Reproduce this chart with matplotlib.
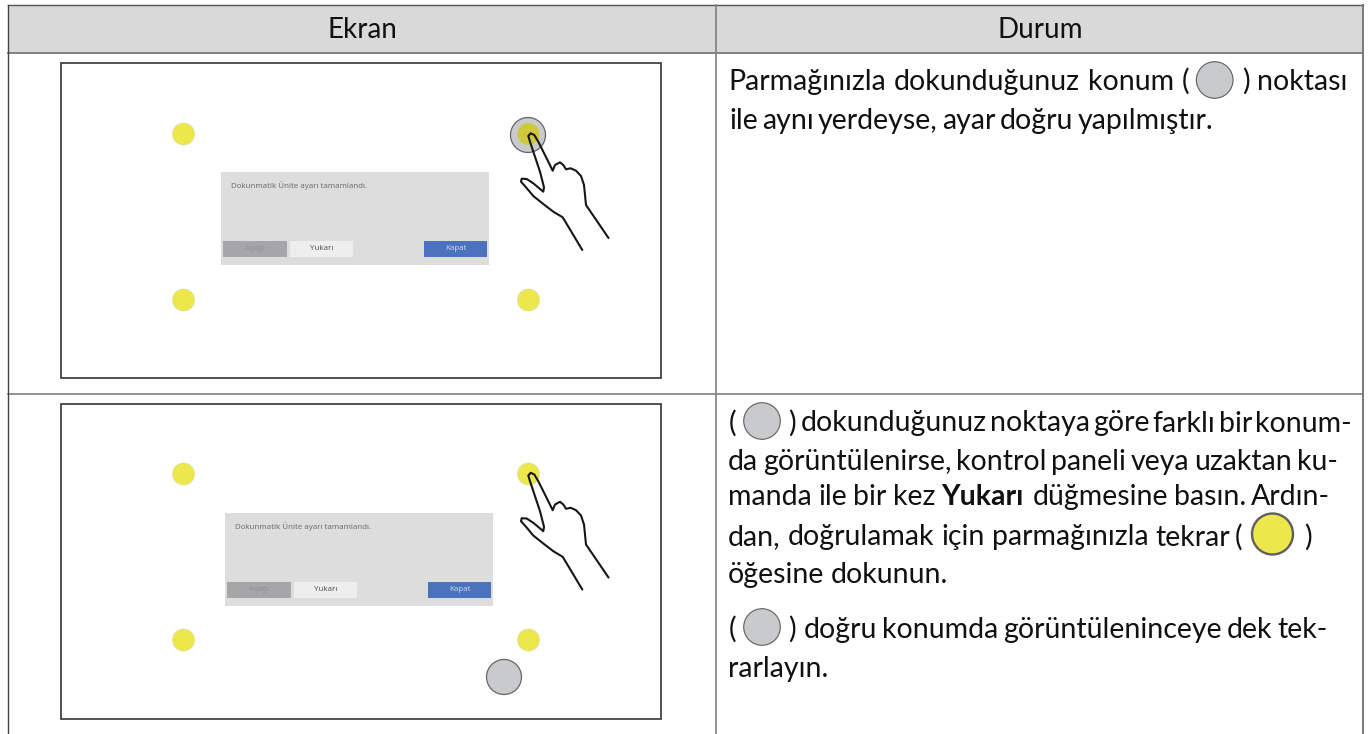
import matplotlib
matplotlib.use("Agg")
import matplotlib.pyplot as plt
from matplotlib.patches import Circle, Rectangle

# ---- data ------------------------------------------------------------------
headers = ["Ekran", "Durum"]
header_centers = [362, 1040]

yellow_x = [183.5, 528.5]
row_offsets = [0, 340]
dialog_dx = [0, 4]
dialog_dy = [0, 341]

dialog_msg = "Dokunmatik Ünite ayarı tamamlandı."
btn_labels = ["Aşağı", "Yukarı", "Kapat"]
btn_x0 = [223.5, 290.5, 424.5]
btn_x1 = [287, 353.5, 487]

# text lines: (baseline y, [(segment text, x start, x end, bold?)])
body_lines = [
    (90,  [("Parmağınızla dokunduğunuz konum", 728.5, 1174, False), ("(", 1182, 1188, False),
           (")", 1242, 1248, False), ("noktası", 1257, 1343, False)]),
    (129, [("ile aynı yerdeyse, ayar doğru yapılmıştır.", 729, 1213, False)]),
    (431.5, [("(", 729, 735, False), (")", 788.5, 794, False),
             ("dokunduğunuz noktaya göre farklı bir konum-", 801, 1351.5, False)]),
    (470, [("da görüntülenirse, kontrol paneli veya uzaktan ku-", 728, 1338, False)]),
    (505, [("manda ile bir kez", 728, 935, False), ("Yukarı", 941.5, 1025, True),
           ("düğmesine basın. Ardın-", 1033, 1330, False)]),
    (545.5, [("dan, doğrulamak için parmağınızla tekrar", 728, 1230, False), ("(", 1235, 1241, False),
             (")", 1304, 1310, False)]),
    (583, [("öğesine dokunun.", 728, 948, False)]),
    (638, [("(", 729, 735, False), (")", 788.5, 794, False),
           ("doğru konumda görüntüleninceye dek tek-", 804, 1328, False)]),
    (677, [("rarlayın.", 728, 824, False)]),
]
BODY_PT = 20.5
FONT = "Lato"

# inline legends: (x, y, radius, colour)
inline = [(1214.7, 80, 18.3, "#c9cacc"), (762, 421, 18.3, "#c9cacc"),
          (1272.5, 534, 20.5, "#ece84b"), (762, 627, 18.3, "#c9cacc")]
inline_lw = [0.8, 0.8, 1.7, 0.8]

hand_x = [582.3, 562.7, 553.3, 543.3, 533.3, 526, 521, 521.7, 526.7, 533.3, 543.3,
          544, 540, 535, 530, 528.3, 530.7, 534.3, 538.3, 543.3, 548.3, 552.7, 555, 560, 563.3,
          566, 570.7, 576, 581, 584, 585, 586, 608.5]
hand_y = [250, 217.3, 211.7, 204, 196, 187.3, 181.7, 178.7, 179, 183.3, 191.7,
          187.3, 171.7, 156.7, 141.7, 136, 133.3, 135, 141.7, 151.7, 161.7, 170.7, 165, 162.3, 165,
          169.3, 168.3, 170.7, 176, 185, 195, 205, 238]
hand_dy = [0, 339.5]

# ---- figure ----------------------------------------------------------------
fig = plt.figure(figsize=(13.7, 7.34), dpi=100, facecolor="white")
ax = fig.add_axes([0, 0, 1, 1])
ax.set_xlim(0, 1370)
ax.set_ylim(734, 0)
ax.axis("off")
rend = fig.canvas.get_renderer()

# table
ax.add_patch(Rectangle((8, 5), 1355, 48, fc="#d9d9d9", ec="none", zorder=1))
ax.plot([8, 1363], [4.5, 4.5], color="#555555", lw=1.0, zorder=2)
ax.plot([8, 1363], [52.7, 52.7], color="#787878", lw=1.3, zorder=2)
ax.plot([8, 1363], [393.7, 393.7], color="#808080", lw=1.2, zorder=2)
ax.plot([8, 8], [4.5, 734], color="#444444", lw=1.0, zorder=2)
ax.plot([715.7, 715.7], [4.5, 734], color="#808080", lw=1.2, zorder=2)
ax.plot([1363, 1363], [4.5, 734], color="#7a7a7a", lw=1.4, zorder=2)

for t, cx in zip(headers, header_centers):
    ax.text(cx, 37.5, t, ha="center", va="baseline", fontsize=20, family=FONT, color="#111111", zorder=5)

def put(x0, x1, y, s, bold, size=BODY_PT):
    """Place one text segment word by word so that it spans x0..x1."""
    words = s.split(" ")
    arts = [ax.text(0, y, w, ha="left", va="baseline", fontsize=size, family=FONT,
                    fontweight="bold" if bold else "normal", color="#111111", zorder=5)
            for w in words]
    ws = [a.get_window_extent(rend).width for a in arts]
    gap = (x1 - x0 - sum(ws)) / max(len(words) - 1, 1)
    x = x0
    for a, w in zip(arts, ws):
        a.set_x(x)
        x += w + gap

for y, segs in body_lines:
    for s, x0, x1, b in segs:
        put(x0, x1, y, s, b)

for (x, y, r, c), lw in zip(inline, inline_lw):
    ax.add_patch(Circle((x, y), r, fc=c, ec="#5f5f5f", lw=lw, zorder=4))

# panels
for i in range(2):
    dy = row_offsets[i]
    ax.add_patch(Rectangle((61, 63 + dy + (1 if i else 0)), 600.5, 315, fc="white", ec="#333333", lw=1.2, zorder=2))
    for x in yellow_x:
        for y in (134, 300):
            ax.add_patch(Circle((x, y + dy), 11, fc="#ece84b", ec="#d8d8a8", lw=0.4, zorder=3))
    ddx, ddy = dialog_dx[i], dialog_dy[i]
    ax.add_patch(Rectangle((221 + ddx, 172 + ddy), 268, 93, fc="#dddddd", ec="none", zorder=3))
    ax.text(231 + ddx, 188 + ddy, dialog_msg, fontsize=5.7, family="Noto Sans", color="#707070", zorder=4)
    fcs = ["#a6a6a8", "#eeeeee", "#4a72bd"]
    tcs = ["#929294", "#5a5a5a", "#c9d5ec"]
    for lab, x0, x1, fc, tc in zip(btn_labels, btn_x0, btn_x1, fcs, tcs):
        ax.add_patch(Rectangle((x0 + ddx, 241 + ddy), x1 - x0, 15.5, fc=fc, ec="none", zorder=4))
        ax.text((x0 + x1) / 2 + ddx, 248.5 + ddy, lab, ha="center", va="center", fontsize=5.7,
                family="Noto Sans", color=tc, zorder=5)
    if i == 0:
        ax.add_patch(Circle((528, 135), 17.5, fc="#c9cacc", ec="#666666", lw=0.9, zorder=3))
        ax.add_patch(Circle((528.5, 134), 11, fc="#cdc93a", ec="none", zorder=3.5))
    else:
        ax.add_patch(Circle((504, 677), 17.5, fc="#c9cacc", ec="#666666", lw=0.9, zorder=3))
    ax.plot(hand_x, [v + hand_dy[i] for v in hand_y], color="#161616", lw=1.5, zorder=6,
            solid_joinstyle="round", solid_capstyle="round")
fig.savefig("out.png", dpi=100)
